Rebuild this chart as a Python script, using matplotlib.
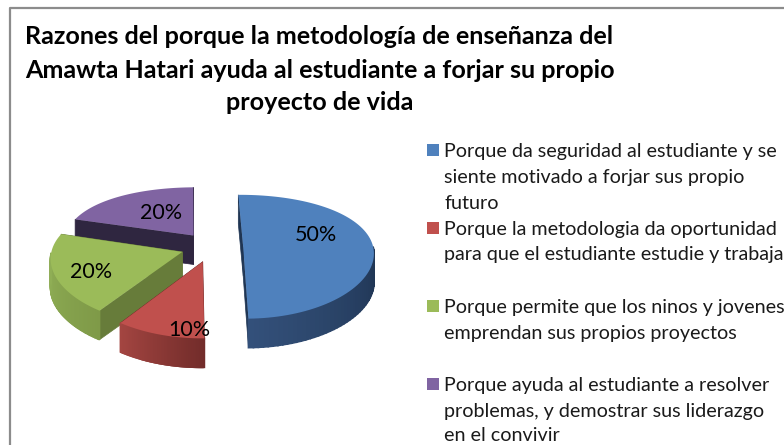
#!/usr/bin/env python3

import numpy as np
import matplotlib
matplotlib.use("Agg")
import matplotlib.pyplot as plt
from matplotlib.colors import to_rgb
from matplotlib.patches import Rectangle

plt.rcParams["font.family"] = ["Lato", "DejaVu Sans"]

TITLE_LINES = [
    "Razones del porque la metodología de enseñanza del",
    "Amawta Hatari ayuda al estudiante a forjar su propio",
    "proyecto de vida",
]
values = [50, 10, 20, 20]
legend_lines = [
    ["Porque da seguridad al estudiante y se", "siente motivado a forjar sus propio", "futuro"],
    ["Porque la metodologia da oportunidad", "para que el estudiante estudie y trabaja"],
    ["Porque permite que los ninos y jovenes", "emprendan sus propios proyectos"],
    ["Porque ayuda al estudiante a resolver", "problemas, y demostrar sus liderazgo", "en el convivir"],
]

top_colors = ["#4f81bd", "#c0504d", "#9bbb59", "#8064a2"]
cut_colors = ["#1f3553", "#6f2a28", "#677c3a", "#2f2640"]
rim_colors = [
    ("#1e3350", "#33507a"),
    ("#722c2a", "#a34541"),
    ("#7f9a48", "#8fae55"),
    ("#3f3251", "#4f3f66"),
]
label_pos = [(316, 235), (189, 330), (91, 272), (161, 213)]
legend_y = [[150, 176, 202], [228, 253], [306, 332], [384, 410, 434]]

CX, CY = 212, 247
RX = 130
DEPTH = 29
EXPLODE = 0.24
START = 91


def project(ux, uy):
    px = CX + RX * ux * (1 - 0.09 * uy)
    py = CY - (62 * uy - 10 * uy ** 2)
    return px, py


def slice_angles():
    spans = np.array(values) / sum(values) * 360
    ends = START - np.cumsum(spans)
    starts = ends + spans
    return starts, ends


def mix(c1, c2, t):
    a, b = np.array(to_rgb(c1)), np.array(to_rgb(c2))
    return tuple(a + (b - a) * t)


def i_order(i):
    # purple at the back, then green, red, blue
    return {3: 2, 2: 3, 1: 4, 0: 5}[i]


def draw_slice(ax, i, a0, a1):
    mid = np.radians((a0 + a1) / 2)
    ox, oy = EXPLODE * np.cos(mid), EXPLODE * np.sin(mid)
    thetas = np.radians(np.linspace(a0, a1, 90))
    ux = ox + np.cos(thetas)
    uy = oy + np.sin(thetas)
    px, py = project(ux, uy)
    apex_x, apex_y = project(ox, oy)

    # cut faces first, the top face covers whatever is hidden
    for k in (0, -1):
        ax.fill([apex_x, px[k], px[k], apex_x],
                [apex_y, py[k], py[k] + DEPTH, apex_y + DEPTH],
                color=cut_colors[i], lw=0.5, zorder=i_order(i))

    # rim, only the part that faces the viewer
    front = np.where(np.sin(thetas) < 0)[0]
    for n, j in enumerate(front[:-1]):
        t = n / max(len(front) - 2, 1)
        shade = mix(rim_colors[i][0], rim_colors[i][1], t)
        ax.fill([px[j], px[j + 1], px[j + 1], px[j]],
                [py[j], py[j + 1], py[j + 1] + DEPTH, py[j] + DEPTH],
                color=shade, lw=1.2, zorder=i_order(i))

    ax.fill(np.r_[apex_x, px], np.r_[apex_y, py], color=top_colors[i], lw=0, zorder=i_order(i))


def main():
    fig = plt.figure(figsize=(7.84, 4.45), dpi=100)
    ax = fig.add_axes([0, 0, 1, 1])
    ax.set_xlim(0, 784)
    ax.set_ylim(445, 0)
    ax.axis("off")

    # chart frame, only top and left are inside the crop
    ax.plot([10, 10, 784], [445, 8, 8], color="#8c8c8c", lw=1.6, zorder=1)

    title_y = [37, 70, 103]
    for line, y in zip(TITLE_LINES, title_y):
        ax.text(319.5, y, line, ha="center", va="center", fontsize=18.1, fontweight="bold", color="black")

    starts, ends = slice_angles()
    for i in (3, 2, 1, 0):
        draw_slice(ax, i, starts[i], ends[i])

    for value, (x, y) in zip(values, label_pos):
        ax.text(x, y, f"{value}%", ha="center", va="center", fontsize=15.5, color="black", zorder=10)

    for color, lines, ys in zip(top_colors, legend_lines, legend_y):
        ax.add_patch(Rectangle((427, ys[0] - 6), 12, 12, color=color, lw=0))
        for line, y in zip(lines, ys):
            ax.text(444.5, y + 1.5, line, ha="left", va="center", fontsize=14.2, color="#1a1a1a")

    fig.savefig("out.png", dpi=100)


if __name__ == "__main__":
    main()
